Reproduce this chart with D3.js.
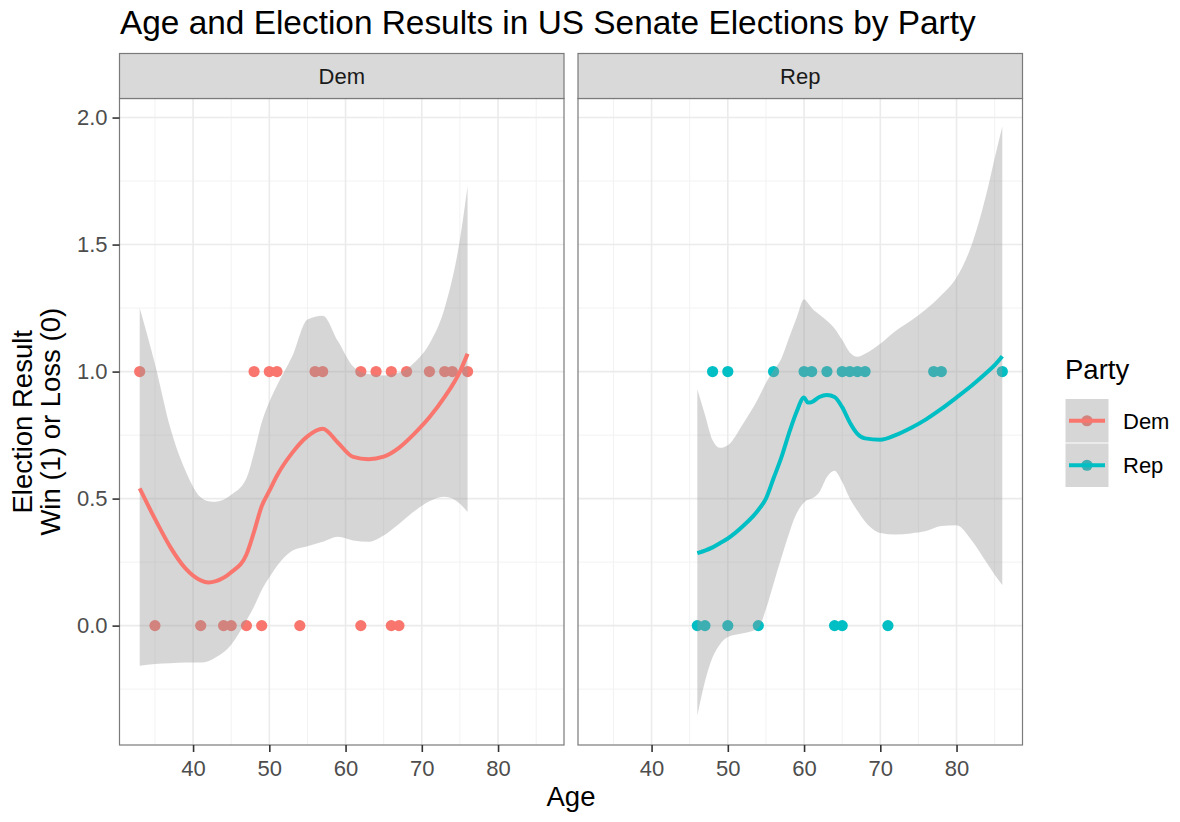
<!DOCTYPE html>
<html>
<head>
<meta charset="utf-8">
<script src="https://cdn.jsdelivr.net/npm/d3@7"></script>
<style>
  html, body { margin: 0; padding: 0; background: #ffffff; }
  svg { display: block; font-family: "Liberation Sans", Arimo, Arial, Helvetica, sans-serif; }
</style>
</head>
<body>
<svg id="chart" width="1180" height="822"></svg>
<script>
// Facet categories and colours
const parties = ["Dem", "Rep"];
const partyColors = ["#F8766D", "#00BFC4"];

// Candidate ages by outcome (1 = win, 0 = loss)
const demWinAges = [33, 48, 50, 51, 56, 57, 62, 64, 66, 68, 71, 73, 74, 76];
const demLossAges = [35, 41, 44, 45, 47, 49, 54, 62, 66, 67];
const repWinAges = [48, 50, 56, 60, 61, 63, 65, 66, 67, 68, 77, 78, 86];
const repLossAges = [46, 47, 50, 54, 64, 65, 71];

// Loess smooth with 95% band, Dem
const demSmoothAges = [33, 35, 37, 39, 41, 42, 43, 45, 47, 48, 49, 50, 51, 53, 55, 57, 59, 61, 63, 65, 67, 69, 71, 73, 75, 76];
const demFit  = [0.54, 0.42, 0.31, 0.225, 0.178, 0.17, 0.175, 0.21, 0.28, 0.37, 0.47, 0.53, 0.59, 0.68, 0.745, 0.775, 0.72, 0.664, 0.655, 0.665, 0.70, 0.755, 0.82, 0.90, 1.00, 1.07];
const demLow  = [-0.158, -0.151, -0.148, -0.145, -0.145, -0.14, -0.125, -0.075, 0.02, 0.075, 0.14, 0.19, 0.235, 0.295, 0.312, 0.33, 0.35, 0.335, 0.33, 0.355, 0.40, 0.45, 0.49, 0.507, 0.48, 0.447];
const demHigh = [1.25, 1.03, 0.78, 0.61, 0.505, 0.49, 0.488, 0.515, 0.58, 0.68, 0.80, 0.88, 0.945, 1.06, 1.205, 1.22, 1.12, 1.02, 0.99, 0.985, 0.995, 1.035, 1.11, 1.25, 1.52, 1.73];

// Loess smooth with 95% band, Rep
const repSmoothAges = [46, 47, 48, 49, 50, 52, 54, 55, 56, 57, 58, 59, 60, 60.5, 61, 62, 63, 64, 65, 66, 67, 68, 70, 72, 74, 76, 78, 80, 82, 84, 85, 86];
const repFit  = [0.285, 0.295, 0.308, 0.325, 0.343, 0.392, 0.455, 0.50, 0.58, 0.66, 0.755, 0.84, 0.898, 0.878, 0.88, 0.90, 0.908, 0.90, 0.86, 0.80, 0.755, 0.737, 0.732, 0.75, 0.778, 0.812, 0.853, 0.898, 0.945, 0.997, 1.025, 1.06];
const repLow  = [-0.355, -0.22, -0.125, -0.072, -0.045, -0.03, -0.01, 0.065, 0.165, 0.265, 0.36, 0.44, 0.485, 0.495, 0.50, 0.525, 0.585, 0.61, 0.565, 0.50, 0.452, 0.41, 0.365, 0.359, 0.363, 0.372, 0.392, 0.395, 0.335, 0.245, 0.20, 0.16];
const repHigh = [0.93, 0.83, 0.73, 0.70, 0.71, 0.795, 0.895, 0.955, 1.005, 1.05, 1.13, 1.21, 1.285, 1.27, 1.25, 1.225, 1.20, 1.17, 1.125, 1.075, 1.058, 1.07, 1.11, 1.16, 1.20, 1.245, 1.30, 1.37, 1.50, 1.71, 1.84, 1.965];

// Axis ticks
const xTicks = [40, 50, 60, 70, 80];
const xMinorTicks = [35, 45, 55, 65, 75, 85];
const yTicks = [0, 0.5, 1.0, 1.5, 2.0];
const yMinorTicks = [-0.25, 0.25, 0.75, 1.25, 1.75];

// Text
const titleText = "Age and Election Results in US Senate Elections by Party";
const xTitle = "Age";
const yTitleLines = ["Election Result", "Win (1) or Loss (0)"];
const legendTitle = "Party";

// Assemble per-panel records
function smoothRows(ages, fit, low, high) {
  return ages.map((a, i) => ({ age: a, fit: fit[i], low: low[i], high: high[i] }));
}
function pointRows(wins, losses) {
  return wins.map(a => ({ age: a, result: 1 })).concat(losses.map(a => ({ age: a, result: 0 })));
}
const panels = [
  { name: parties[0], color: partyColors[0], points: pointRows(demWinAges, demLossAges),
    smooth: smoothRows(demSmoothAges, demFit, demLow, demHigh) },
  { name: parties[1], color: partyColors[1], points: pointRows(repWinAges, repLossAges),
    smooth: smoothRows(repSmoothAges, repFit, repLow, repHigh) }
];

// Layout
const panelLefts = [119.5, 578];
const panelW = 444.5;
const stripTop = 53.5, stripH = 45;
const panelTop = stripTop + stripH, panelBottom = 745;
const ribbonFill = "rgba(153,153,153,0.4)";

const svg = d3.select("#chart");

const x = d3.scaleLinear().domain([30.35, 88.65]).range([0, panelW]);
const y = d3.scaleLinear().domain([-0.47, 2.075]).range([panelBottom, panelTop]);

// Title
svg.append("text")
  .attr("x", 120).attr("y", 34)
  .attr("font-size", 33.4).attr("fill", "#000")
  .text(titleText);

const area = d3.area().curve(d3.curveMonotoneX)
  .x(d => x(d.age)).y0(d => y(d.low)).y1(d => y(d.high));
const line = d3.line().curve(d3.curveMonotoneX)
  .x(d => x(d.age)).y(d => y(d.fit));

panels.forEach((p, i) => {
  const g = svg.append("g").attr("transform", `translate(${panelLefts[i]},0)`);

  // panel background
  g.append("rect").attr("x", 0).attr("y", panelTop).attr("width", panelW)
    .attr("height", panelBottom - panelTop).attr("fill", "#fff");

  // minor grid
  g.selectAll(".vminor").data(xMinorTicks).join("line")
    .attr("x1", d => x(d)).attr("x2", d => x(d))
    .attr("y1", panelTop).attr("y2", panelBottom)
    .attr("stroke", "#f2f2f2").attr("stroke-width", 1);
  g.selectAll(".hminor").data(yMinorTicks).join("line")
    .attr("x1", 0).attr("x2", panelW)
    .attr("y1", d => y(d)).attr("y2", d => y(d))
    .attr("stroke", "#f2f2f2").attr("stroke-width", 1);
  // major grid
  g.selectAll(".vmajor").data(xTicks).join("line")
    .attr("x1", d => x(d)).attr("x2", d => x(d))
    .attr("y1", panelTop).attr("y2", panelBottom)
    .attr("stroke", "#ebebeb").attr("stroke-width", 1.6);
  g.selectAll(".hmajor").data(yTicks).join("line")
    .attr("x1", 0).attr("x2", panelW)
    .attr("y1", d => y(d)).attr("y2", d => y(d))
    .attr("stroke", "#ebebeb").attr("stroke-width", 1.6);

  // points
  g.selectAll(".pt").data(p.points).join("circle")
    .attr("cx", d => x(d.age)).attr("cy", d => y(d.result))
    .attr("r", 5.6).attr("fill", p.color);

  // confidence band and smooth line
  g.append("path").datum(p.smooth).attr("d", area).attr("fill", ribbonFill);
  g.append("path").datum(p.smooth).attr("d", line)
    .attr("fill", "none").attr("stroke", p.color).attr("stroke-width", 4);

  // panel border
  g.append("rect").attr("x", 0).attr("y", panelTop).attr("width", panelW)
    .attr("height", panelBottom - panelTop)
    .attr("fill", "none").attr("stroke", "#7a7a7a").attr("stroke-width", 1.2);

  // strip
  g.append("rect").attr("x", 0).attr("y", stripTop).attr("width", panelW).attr("height", stripH)
    .attr("fill", "#d9d9d9").attr("stroke", "#7a7a7a").attr("stroke-width", 1.2);
  g.append("text").attr("x", panelW / 2).attr("y", stripTop + stripH / 2)
    .attr("dy", "0.36em").attr("text-anchor", "middle")
    .attr("font-size", 22).attr("fill", "#1a1a1a").text(p.name);

  // x axis
  const xa = g.append("g").attr("transform", `translate(0,${panelBottom})`)
    .call(d3.axisBottom(x).tickValues(xTicks).tickFormat(d3.format("d")).tickSize(7).tickPadding(8));
  xa.select(".domain").remove();
  xa.selectAll(".tick line").attr("stroke", "#333").attr("stroke-width", 1.6);
  xa.selectAll(".tick text").attr("font-size", 22).attr("fill", "#4d4d4d")
    .attr("font-family", "\"Liberation Sans\", Arimo, Arial, sans-serif");

  if (i === 0) {
    const ya = g.append("g")
      .call(d3.axisLeft(y).tickValues(yTicks).tickFormat(d3.format(".1f")).tickSize(7).tickPadding(5));
    ya.select(".domain").remove();
    ya.selectAll(".tick line").attr("stroke", "#333").attr("stroke-width", 1.6);
    ya.selectAll(".tick text").attr("font-size", 22).attr("fill", "#4d4d4d")
      .attr("font-family", "\"Liberation Sans\", Arimo, Arial, sans-serif");
  }
});

// axis titles
svg.append("text").attr("x", (panelLefts[0] + panelLefts[1] + panelW) / 2).attr("y", 806)
  .attr("text-anchor", "middle").attr("font-size", 27.5).attr("fill", "#000").text(xTitle);

const yMid = (panelTop + panelBottom) / 2;
const yTitle = svg.append("text")
  .attr("transform", `translate(32,${yMid}) rotate(-90)`)
  .attr("text-anchor", "middle").attr("font-size", 27.5).attr("fill", "#000");
yTitleLines.forEach((t, k) => {
  yTitle.append("tspan").attr("x", 0).attr("y", k * 28).text(t);
});

// legend
const lg = svg.append("g").attr("transform", "translate(1065,0)");
lg.append("text").attr("x", 0).attr("y", 379).attr("font-size", 27.5).attr("fill", "#000").text(legendTitle);
const keyTop = 398.5, keyH = 44.5, keyW = 44;
parties.forEach((name, k) => {
  const ky = keyTop + k * keyH;
  const kg = lg.append("g");
  kg.append("rect").attr("x", 0).attr("y", ky).attr("width", keyW).attr("height", keyH).attr("fill", "#fff");
  kg.append("circle").attr("cx", keyW / 2).attr("cy", ky + keyH / 2).attr("r", 5.6).attr("fill", partyColors[k]);
  kg.append("rect").attr("x", 0.5).attr("y", ky + 0.5).attr("width", keyW - 1).attr("height", keyH - 1)
    .attr("fill", ribbonFill);
  kg.append("line").attr("x1", 4).attr("x2", keyW - 4)
    .attr("y1", ky + keyH / 2).attr("y2", ky + keyH / 2)
    .attr("stroke", partyColors[k]).attr("stroke-width", 4);
  kg.append("text").attr("x", 58).attr("y", ky + keyH / 2).attr("dy", "0.36em")
    .attr("font-size", 22).attr("fill", "#000").text(name);
});
</script>
</body>
</html>
